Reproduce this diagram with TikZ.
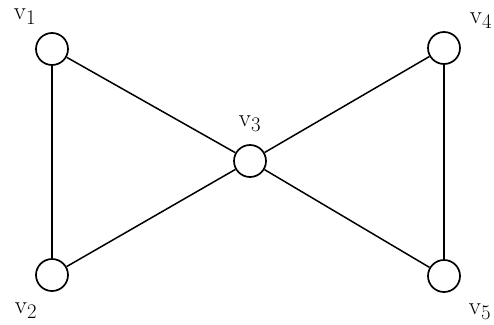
\documentclass[tikz,border=0pt]{standalone}
\begin{document}
\begin{tikzpicture}[x=1pt,y=-1pt,
  vtx/.style={circle,draw,line width=1.7pt,minimum size=32pt,inner sep=0pt},
  edge/.style={line width=1.5pt},
  lbl/.style={font=\fontsize{28}{32}\selectfont,inner sep=0pt}]
\useasboundingbox (0,0) rectangle (494,324);
\node[vtx] (v1) at (52,49) {};
\node[vtx] (v2) at (52,275) {};
\node[vtx] (v3) at (250,161) {};
\node[vtx] (v4) at (444,48) {};
\node[vtx] (v5) at (444,276) {};
\draw[edge] (v1) -- (v2);
\draw[edge] (v4) -- (v5);
\draw[edge] (v1) -- (v3);
\draw[edge] (v2) -- (v3);
\draw[edge] (v3) -- (v4);
\draw[edge] (v3) -- (v5);
\node[lbl] (l1) at (25,17) {$\mathrm{v}_1$};
\node[lbl] (l2) at (26,311) {$\mathrm{v}_2$};
\node[lbl] (l3) at (250,124) {$\mathrm{v}_3$};
\node[lbl] (l4) at (481,21) {$\mathrm{v}_4$};
\node[lbl] (l5) at (480,312) {$\mathrm{v}_5$};
\end{tikzpicture}
\end{document}
